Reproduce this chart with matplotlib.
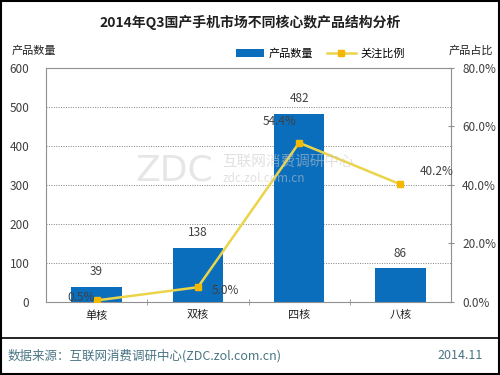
import matplotlib
matplotlib.use("Agg")
import matplotlib.pyplot as plt
import numpy as np
from matplotlib.ticker import FixedLocator

plt.rcParams['font.family'] = ['Noto Sans CJK SC', 'DejaVu Sans']

categories = ["单核", "双核", "四核", "八核"]
product_count = [39, 138, 482, 86]
attention_pct = [0.5, 5.0, 54.4, 40.2]

left_ticks = [0, 100, 200, 300, 400, 500, 600]
right_ticks = [0, 20, 40, 60, 80]

BAR = "#0a6ebd"
LINE = "#ecd44a"
MARK = "#f5b800"
TXT = "#404040"

fig = plt.figure(figsize=(5, 3.75), dpi=100)
ax = fig.add_axes([0.092, 0.195, 0.81, 0.624])
x = np.arange(len(categories))
ax.bar(x, product_count, width=0.5, color=BAR, zorder=2, label="产品数量")
ax.set_xlim(-0.5, 3.5)
ax.set_ylim(0, 600)
ax.set_yticks(left_ticks)
ax.set_yticklabels([str(v) for v in left_ticks], fontsize=8.5, color=TXT)
for v in left_ticks[1:-1]:
    ax.axhline(v, color="#808080", lw=0.7, ls=(0, (1, 1.5)), zorder=1)
ax.set_xticks(x)
ax.set_xticklabels(categories, fontsize=8, color="#202020")
ax.xaxis.set_minor_locator(FixedLocator([0.5, 1.5, 2.5]))
ax.tick_params(axis="x", which="major", length=0, pad=6)
ax.tick_params(axis="x", which="minor", length=4, direction="inout", color="#909090")
ax.tick_params(axis="y", length=0, pad=12)
for s in ax.spines.values():
    s.set_color("#909090")
    s.set_linewidth(0.8)

for xi, v in zip(x, product_count):
    ax.annotate(str(v), (xi, v), xytext=(0, 11), textcoords="offset points",
                ha="center", va="center", fontsize=8.5, color=TXT)

ax2 = ax.twinx()
ax2.plot(x, attention_pct, color=LINE, lw=1.8, marker="s", ms=5,
         mfc=MARK, mec=MARK, zorder=3, label="关注比例")
ax2.set_ylim(0, 80)
ax2.set_yticks(right_ticks)
ax2.set_yticklabels([f"{v:.1f}%" for v in right_ticks], fontsize=8.5, color=TXT)
ax2.tick_params(axis="y", length=4, direction="inout", color="#909090", pad=6)
for s in ax2.spines.values():
    s.set_visible(False)

# label offsets (points) relative to each line marker
offsets = [(-21, 2, "left"), (10, -2, "left"), (-14, 15, "center"), (14, 9, "left")]
for xi, v, (dx, dy, ha) in zip(x, attention_pct, offsets):
    ax2.annotate(f"{v:.1f}%", (xi, v), xytext=(dx, dy), textcoords="offset points",
                 ha=ha, va="center", fontsize=8.5, color=TXT)

# watermark
fig.text(0.27, 0.544, "ZDC", fontsize=26, color="#c8c8c8", alpha=0.45, ha="left",
         va="center", family="DejaVu Sans")
fig.text(0.444, 0.568, "互联网消费调研中心", fontsize=10.5, color="#c8c8c8", alpha=0.55,
         ha="left", va="center")
fig.text(0.446, 0.523, "zdc.zol.com.cn", fontsize=8.5, color="#c8c8c8", alpha=0.55,
         ha="left", va="center")

fig.text(0.5, 0.94, "2014年Q3国产手机市场不同核心数产品结构分析", ha="center", va="center",
         fontsize=10, fontweight="bold", color="#202020")
fig.text(0.024, 0.866, "产品数量", ha="left", va="center", fontsize=8, color="#202020")
fig.text(0.986, 0.866, "产品占比", ha="right", va="center", fontsize=8, color="#202020")

h1, l1 = ax.get_legend_handles_labels()
h2, l2 = ax2.get_legend_handles_labels()
fig.legend(h1 + h2, l1 + l2, loc="center", bbox_to_anchor=(0.64, 0.857), ncol=2,
           frameon=False, fontsize=8, handlelength=2.6, columnspacing=1.2,
           handletextpad=0.4)

fig.add_artist(plt.Line2D([0.0, 1.0], [0.099, 0.099], color="black", lw=1.2))
fig.text(0.016, 0.052, "数据来源：互联网消费调研中心(ZDC.zol.com.cn)", ha="left",
         va="center", fontsize=9, color="#4a7585")
fig.text(0.965, 0.052, "2014.11", ha="right", va="center", fontsize=9, color="#4a7585")
fig.add_artist(plt.Rectangle((0.002, 0.003), 0.996, 0.994, fill=False, ec="black", lw=1.5,
                             transform=fig.transFigure))

fig.savefig("out.png", dpi=100)
